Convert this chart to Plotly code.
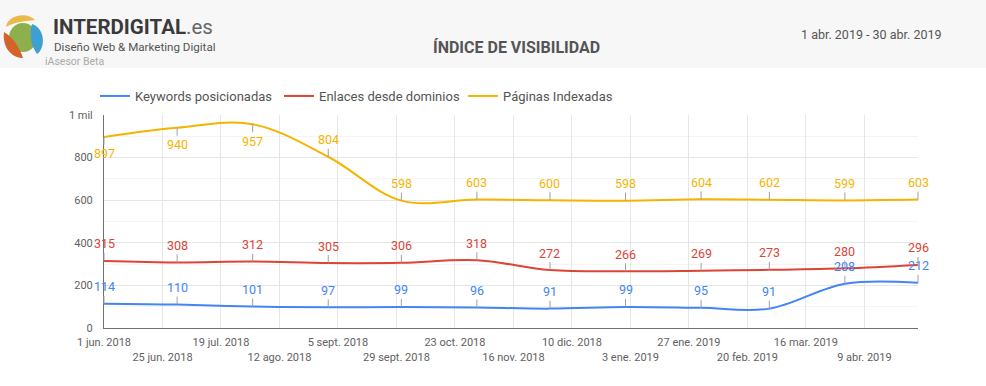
import plotly.graph_objects as go

# ---------------- data ----------------
dates = ["2018-06-01", "2018-07-01", "2018-08-01", "2018-09-01", "2018-10-01", "2018-11-01",
         "2018-12-01", "2019-01-01", "2019-02-01", "2019-03-01", "2019-04-01", "2019-05-01"]
keywords = [114, 110, 101, 97, 99, 96, 91, 99, 95, 91, 208, 212]
enlaces = [315, 308, 312, 305, 306, 318, 272, 266, 269, 273, 280, 296]
paginas = [897, 940, 957, 804, 598, 603, 600, 598, 604, 602, 599, 603]

series_names = ["Keywords posicionadas", "Enlaces desde dominios", "Páginas Indexadas"]

tick_dates = ["2018-06-01", "2018-06-25", "2018-07-19", "2018-08-12", "2018-09-05", "2018-09-29",
              "2018-10-23", "2018-11-16", "2018-12-10", "2019-01-03", "2019-01-27", "2019-02-20",
              "2019-03-16", "2019-04-09"]
tick_labels = ["1 jun. 2018", "25 jun. 2018", "19 jul. 2018", "12 ago. 2018", "5 sept. 2018",
               "29 sept. 2018", "23 oct. 2018", "16 nov. 2018", "10 dic. 2018", "3 ene. 2019",
               "27 ene. 2019", "20 feb. 2019", "16 mar. 2019", "9 abr. 2019"]
y_tickvals = [0, 200, 400, 600, 800, 1000]
y_ticktext = ["0", "200", "400", "600", "800", "1 mil"]

title_text = "ÍNDICE DE VISIBILIDAD"
date_range_text = "1 abr. 2019 - 30 abr. 2019"

# ---------------- style ----------------
W, H = 986, 386
L, R, T, B = 104, 918, 115, 328
colors = ["#4285F4", "#DB4437", "#F4B400"]
FONT = "Roboto, 'Open Sans', sans-serif"


def px(x):
    return (x - L) / (R - L)


def py(y):
    return (B - y) / (B - T)


fig = go.Figure()
for name, vals, col in zip(series_names, [keywords, enlaces, paginas], colors):
    fig.add_trace(go.Scatter(x=dates, y=vals, name=name, mode="lines",
                             line=dict(color=col, width=2, shape="spline", smoothing=1),
                             hoverinfo="skip"))

annotations = []
# data labels with gray stems
below = {2: {0, 1, 2}}  # yellow series: first three labels below the line
for si, (vals, col) in enumerate(zip([keywords, enlaces, paginas], colors)):
    for i, (d, v) in enumerate(zip(dates, vals)):
        ay = 17 if i in below.get(si, set()) else -17
        annotations.append(dict(x=d, y=v, xref="x", yref="y", text=str(v),
                                showarrow=True, arrowhead=0, arrowwidth=1,
                                arrowcolor="#a0a0a0", ax=0, ay=ay, standoff=0,
                                font=dict(family=FONT, size=12.5, color=col)))

# header texts
annotations += [
    dict(x=px(51), y=py(27), xref="paper", yref="paper", xanchor="left", yanchor="middle",
         showarrow=False,
         text="<b>INTERDIGITAL</b><span style='color:#666666'>.es</span>",
         font=dict(family=FONT, size=20.5, color="#3a3a3a")),
    dict(x=px(52), y=py(47), xref="paper", yref="paper", xanchor="left", yanchor="middle",
         showarrow=False, text="Diseño Web & Marketing Digital",
         font=dict(family=FONT, size=11.6, color="#555555")),
    dict(x=px(43), y=py(62), xref="paper", yref="paper", xanchor="left", yanchor="middle",
         showarrow=False, text="iAsesor Beta",
         font=dict(family=FONT, size=10.5, color="#aaaaaa")),
    dict(x=px(516), y=py(48), xref="paper", yref="paper", xanchor="center", yanchor="middle",
         showarrow=False, text="<b>" + title_text + "</b>",
         font=dict(family=FONT, size=16, color="#555555")),
    dict(x=px(944), y=py(35), xref="paper", yref="paper", xanchor="right", yanchor="middle",
         showarrow=False, text=date_range_text,
         font=dict(family=FONT, size=12.5, color="#555555")),
]


def path(points_str):
    # convert "M x,y C ..." pixel path into paper coordinates
    out = []
    for tok in points_str.split():
        if "," in tok:
            a, b = tok.split(",")
            out.append(f"{px(float(a)):.5f},{py(float(b)):.5f}")
        else:
            out.append(tok)
    return " ".join(out)


shapes = [
    dict(type="rect", xref="paper", yref="paper", x0=px(0), x1=px(W), y0=py(0), y1=py(68),
         fillcolor="#f7f7f7", line=dict(width=0), layer="below"),
    # logo
    dict(type="circle", xref="paper", yref="paper", x0=px(9), x1=px(37), y0=py(52), y1=py(23),
         fillcolor="#8db04c", line=dict(width=0)),
    dict(type="path", xref="paper", yref="paper",
         path=path("M 6,27 C 8,14 28,12 35,20 C 26,21 14,22 6,27 Z"),
         fillcolor="#e9b949", line=dict(width=0)),
    dict(type="path", xref="paper", yref="paper",
         path=path("M 4,32 C 2,48 12,58 23,58 C 20,49 14,38 4,32 Z"),
         fillcolor="#d5622a", line=dict(width=0)),
    dict(type="path", xref="paper", yref="paper",
         path=path("M 32,24 C 45,28 46,48 37,54 C 31,46 29,34 32,24 Z"),
         fillcolor="#3d9fd2", line=dict(width=0)),
]

fig.update_layout(
    width=W, height=H, autosize=False,
    margin=dict(l=L, r=W - R, t=T, b=H - B, pad=0),
    paper_bgcolor="#ffffff", plot_bgcolor="#ffffff",
    font=dict(family=FONT, size=12, color="#555555"),
    showlegend=True,
    legend=dict(orientation="h", x=px(95), xanchor="left", y=py(96), yanchor="middle",
                font=dict(family=FONT, size=13, color="#555555"),
                bgcolor="rgba(0,0,0,0)", entrywidth=139, entrywidthmode="pixels",
                itemclick=False, itemdoubleclick=False),
    annotations=annotations,
    shapes=shapes,
    hovermode=False,
)

fig.update_xaxes(type="date", range=[dates[0], dates[-1]],
                 tickvals=tick_dates,
                 ticktext=[t if i % 2 == 0 else " <br>" + t for i, t in enumerate(tick_labels)],
                 tickangle=0, showgrid=True, gridcolor="#e6e6e6", gridwidth=1,
                 showline=True, linecolor="#707070", linewidth=1, ticks="",
                 ticklabelstandoff=4,
                 tickfont=dict(family=FONT, size=11, color="#616161"), zeroline=False)
fig.update_yaxes(range=[0, 1000], tickvals=y_tickvals, ticktext=y_ticktext,
                 showgrid=True, gridcolor="#e6e6e6", gridwidth=1,
                 minor=dict(dtick=100, showgrid=True, gridcolor="#f4f4f4", ticks=""),
                 showline=True, linecolor="#707070", linewidth=1, ticks="",
                 ticklabelstandoff=8,
                 tickfont=dict(family=FONT, size=11, color="#616161"), zeroline=False)

fig.write_html("out.html", config={"displayModeBar": False},
               post_script="document.body.style.margin='0';")
